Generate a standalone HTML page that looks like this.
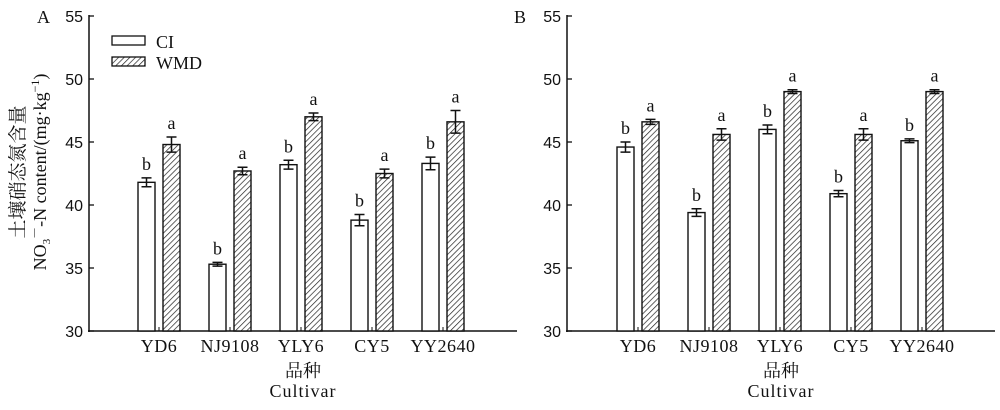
<!DOCTYPE html>
<html><head><meta charset="utf-8"><style>
body{margin:0;background:#fff}
svg text{font-family:"Liberation Serif","Noto Serif CJK SC",serif;fill:#111}
.n{font-family:"Liberation Sans",sans-serif;font-size:16px}
</style></head><body>
<svg width="1000" height="405" viewBox="0 0 1000 405" xmlns="http://www.w3.org/2000/svg">
<defs><pattern id="h" patternUnits="userSpaceOnUse" width="4" height="4" patternTransform="rotate(45)"><rect width="4" height="4" fill="#fff"/><line x1="0" y1="0" x2="0" y2="4" stroke="#222" stroke-width="1.4"/></pattern></defs>
<g id="chart"></g>
<text x="37" y="23" font-size="18">A</text>
<text x="514" y="23" font-size="18">B</text>
<text transform="translate(24,172) rotate(-90)" text-anchor="middle" font-size="19">土壤硝态氮含量</text>
<text transform="translate(46,172) rotate(-90)" text-anchor="middle" font-size="18">NO<tspan font-size="11" dy="4">3</tspan><tspan dy="-11" font-size="12">－</tspan><tspan dy="7">-N content/(mg·kg</tspan><tspan dy="-7" font-size="12">−1</tspan><tspan dy="7">)</tspan></text>
<rect x="112" y="36" width="33" height="9" fill="#fff" stroke="#111" stroke-width="1.3"/>
<rect x="112" y="57" width="33" height="9" fill="url(#h)" stroke="#111" stroke-width="1.3"/>
<text x="156" y="48" font-size="18">CI</text>
<text x="156" y="69" font-size="18">WMD</text>
</svg>
<script>
const g=document.getElementById('chart');let s='';
function y(v){return 331-(v-30)*12.6}
function panel(ax,c0,ci,ce,w,we){
 s+=`<line x1="${ax}" y1="15" x2="${ax}" y2="332" stroke="#111" stroke-width="1.5"/><line x1="${ax-1}" y1="331" x2="${ax+428}" y2="331" stroke="#111" stroke-width="1.5"/>`;
 for(let v=30;v<=55;v+=5){s+=`<line x1="${ax}" y1="${y(v)}" x2="${ax+5}" y2="${y(v)}" stroke="#111" stroke-width="1.3"/><text class="n" x="${ax-6}" y="${y(v)+6}" text-anchor="end">${v}</text>`}
 const names=['YD6','NJ9108','YLY6','CY5','YY2640'];
 for(let i=0;i<5;i++){const c=c0+i*71;
  [[ci[i],ce[i],c-21,'#fff','b'],[w[i],we[i],c+4,'url(#h)','a']].forEach(([v,e,x,f,l])=>{
   s+=`<rect x="${x}" y="${y(v)}" width="17" height="${331-y(v)}" fill="${f}" stroke="#111" stroke-width="1.4"/>`;
   const m=x+8.5;s+=`<path d="M${m} ${y(v+e)}V${y(v-e)}M${m-5} ${y(v+e)}h10M${m-5} ${y(v-e)}h10" stroke="#111" stroke-width="1.5" fill="none"/>`;
   s+=`<text x="${m}" y="${y(v+e)-8}" text-anchor="middle" font-size="18">${l}</text>`;});
  s+=`<line x1="${c}" y1="331" x2="${c}" y2="327" stroke="#111"/>`;
  s+=`<text x="${c}" y="352" text-anchor="middle" font-size="18" letter-spacing="0.5">${names[i]}</text>`;}
 const mid=ax+214;
 s+=`<text x="${mid}" y="377" text-anchor="middle" font-size="18">品种</text><text x="${mid}" y="397" text-anchor="middle" font-size="18" letter-spacing="1">Cultivar</text>`;
}
panel(89,159,[41.8,35.3,43.2,38.8,43.3],[.35,.15,.35,.45,.5],[44.8,42.7,47.0,42.5,46.6],[.6,.3,.3,.35,.9]);
panel(567,638,[44.6,39.4,46.0,40.9,45.1],[.4,.3,.35,.25,.15],[46.6,45.6,49.0,45.6,49.0],[.2,.45,.15,.45,.15]);
g.innerHTML=s;
</script>
</body></html>
